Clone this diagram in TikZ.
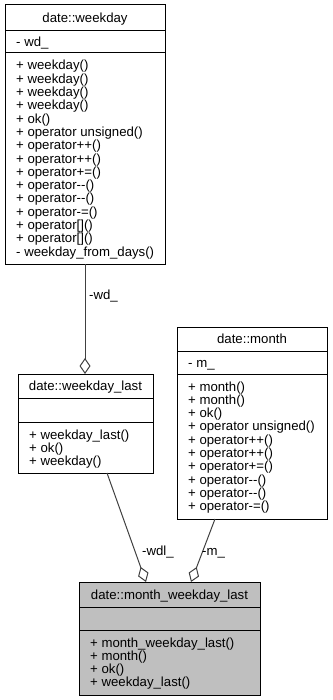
\documentclass[tikz,border=0pt]{standalone}
\usepackage{fontspec}
\setmainfont{Liberation Sans}
\usetikzlibrary{arrows.meta}

\definecolor{edgegray}{HTML}{404040}
\definecolor{boxgray}{HTML}{BFBFBF}
\newcommand\umlsize{\fontsize{13.2}{13.3}\selectfont}

\tikzset{
  classbox/.style={draw=black, line width=1pt, inner sep=0pt, outer sep=0pt, anchor=north west},
  sepline/.style={draw=black, line width=1pt},
  member/.style={anchor=base west, inner sep=0pt, font=\umlsize},
  classtitle/.style={anchor=base, inner sep=0pt, font=\umlsize},
  edge/.style={draw=edgegray, line width=1pt, -{Diamond[open, length=16pt, width=11pt]}},
  edgelabel/.style={anchor=base west, inner sep=0pt, font=\umlsize},
}

\begin{document}
\begin{tikzpicture}[x=1pt, y=-1pt]
\useasboundingbox (0,0) rectangle (332,700);

% ---------- date::weekday ----------
\node[classbox, minimum width=160pt, minimum height=259pt] (wd) at (5,5) {};
\draw[sepline] (5,31) -- (165,31);
\draw[sepline] (5,53) -- (165,53);
\node[classtitle] (wdT) at (85,22.5) {date::weekday};
\node[member] (wdA) at (16,46.5) {- wd\_};
\foreach \t [count=\i from 0] in {%
  {+ weekday()},{+ weekday()},{+ weekday()},{+ weekday()},{+ ok()},
  {+ operator unsigned()},{+ operator++()},{+ operator++()},{+ operator+=()},
  {+ operator-\kern0pt-()},{+ operator-\kern0pt-()},{+ operator-=()},
  {+ operator[]()},{+ operator[]()},{- weekday\_from\_days()}}
  \node[member] (wdM\i) at (16,70+13.3*\i) {\t};

% ---------- date::weekday_last ----------
\node[classbox, minimum width=135pt, minimum height=99pt] (wdl) at (18,374) {};
\draw[sepline] (18,398) -- (153,398);
\draw[sepline] (18,422) -- (153,422);
\node[classtitle] (wdlT) at (85.5,390.5) {date::weekday\_last};
\foreach \t [count=\i from 0] in {{+ weekday\_last()},{+ ok()},{+ weekday()}}
  \node[member] (wdlM\i) at (29,439+13.3*\i) {\t};

% ---------- date::month ----------
\node[classbox, minimum width=150pt, minimum height=192pt] (mo) at (177,327) {};
\draw[sepline] (177,351.5) -- (327,351.5);
\draw[sepline] (177,374) -- (327,374);
\node[classtitle] (moT) at (252,343.5) {date::month};
\node[member] (moA) at (188,367.5) {- m\_};
\foreach \t [count=\i from 0] in {%
  {+ month()},{+ month()},{+ ok()},{+ operator unsigned()},
  {+ operator++()},{+ operator++()},{+ operator+=()},
  {+ operator-\kern0pt-()},{+ operator-\kern0pt-()},{+ operator-=()}}
  \node[member] (moM\i) at (188,391+13.3*\i) {\t};

% ---------- date::month_weekday_last ----------
\node[classbox, fill=boxgray, minimum width=181pt, minimum height=113pt] (mwl) at (79,582) {};
\draw[sepline] (79,607) -- (260,607);
\draw[sepline] (79,630) -- (260,630);
\node[classtitle] (mwlT) at (169.5,599) {date::month\_weekday\_last};
\foreach \t [count=\i from 0] in {%
  {+ month\_weekday\_last()},{+ month()},{+ ok()},{+ weekday\_last()}}
  \node[member] (mwlM\i) at (90,647+13.3*\i) {\t};

% ---------- aggregations ----------
\draw[edge] (wd.south) -- (wd.south |- wdl.north);
\draw[edge] ([xshift=21.5pt]wdl.south) -- ([xshift=-23.5pt]mwl.north);
\draw[edge] ([xshift=-37pt]mo.south) -- ([xshift=21.5pt]mwl.north);

\node[edgelabel] (lwd) at (89,299.5) {-wd\_};
\node[edgelabel] (lwdl) at (142,555) {-wdl\_};
\node[edgelabel] (lm) at (202,555) {-m\_};
\end{tikzpicture}
\end{document}
